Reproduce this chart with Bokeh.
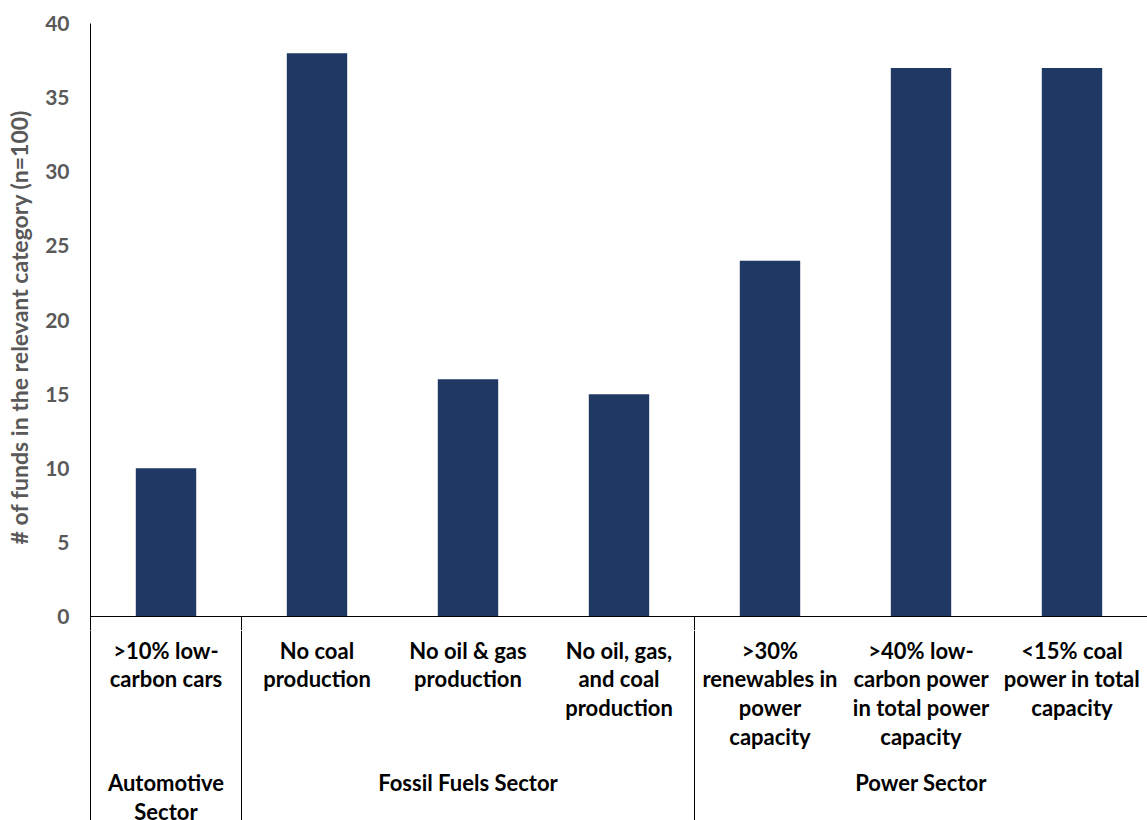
from bokeh.plotting import figure
from bokeh.layouts import column
from bokeh.models import Range1d, FixedTicker, Span, ColumnDataSource
from bokeh.core.properties import value
from bokeh.embed import file_html
from bokeh.resources import INLINE

# ---- data ----
categories = [
    ">10% low-\ncarbon cars",
    "No coal\nproduction",
    "No oil & gas\nproduction",
    "No oil, gas,\nand coal\nproduction",
    ">30%\nrenewables in\npower\ncapacity",
    ">40% low-\ncarbon power\nin total power\ncapacity",
    "<15% coal\npower in total\ncapacity",
]
values = [10, 38, 16, 15, 24, 37, 37]
groups = ["Automotive\nSector", "Fossil Fuels Sector", "Power Sector"]
group_sizes = [1, 3, 3]
y_ticks = [0, 5, 10, 15, 20, 25, 30, 35, 40]
y_title = "# of funds in the relevant category (n=100)"

FONT = "Lato"
BAR = "#203864"
GREY = "#595959"

n = len(categories)
xr = Range1d(0, n)

# layout constants (pixels)
TOP_H = 630          # top canvas height (frame 23..630)
ZERO_PX = 616        # pixel row of the zero line
PX_PER_UNIT = (ZERO_PX - 23) / 40.0
y_min_top = -(TOP_H - ZERO_PX) / PX_PER_UNIT

bounds = [0]
for s in group_sizes:
    bounds.append(bounds[-1] + s)
sep_x = bounds[1:-1]
centers = [i + 0.5 for i in range(n)]

# ---- top: bars ----
p = figure(width=1147, height=TOP_H, output_backend="svg", toolbar_location=None,
           x_range=xr, y_range=Range1d(y_min_top, 40),
           min_border_left=90, min_border_top=23, min_border_bottom=0, min_border_right=0)
p.outline_line_color = None
p.xgrid.visible = False
p.ygrid.visible = False
p.xaxis.visible = False

yax = p.yaxis[0]
yax.ticker = FixedTicker(ticks=y_ticks)
yax.major_tick_out = 0
yax.major_tick_in = 0
yax.minor_tick_out = 0
yax.minor_tick_in = 0
yax.axis_line_color = "black"
yax.major_label_text_font = FONT
yax.major_label_text_font_size = "21px"
yax.major_label_text_font_style = "bold"
yax.major_label_text_color = GREY
yax.major_label_standoff = 21
yax.axis_label = y_title
yax.axis_label_text_font = FONT
yax.axis_label_text_font_size = "23px"
yax.axis_label_text_font_style = "bold"
yax.axis_label_text_color = GREY
yax.axis_label_standoff = 9

p.vbar(x=centers, top=values, width=0.4, bottom=0, color=BAR, line_color=None)
p.add_layout(Span(location=0, dimension="width", line_color="black", line_width=1))
p.segment(x0=sep_x, y0=[0] * len(sep_x), x1=sep_x, y1=[y_min_top] * len(sep_x),
          line_color="black", line_width=1)

# ---- bottom: category labels and group separators (1 unit = 1 px below zero line) ----
BOT_H = 820 - TOP_H
q_top = -(TOP_H - ZERO_PX)
q = figure(width=1147, height=BOT_H, output_backend="svg", toolbar_location=None,
           x_range=xr, y_range=Range1d(q_top - BOT_H, q_top),
           min_border_left=90, min_border_top=0, min_border_bottom=0, min_border_right=0)
q.outline_line_color = None
q.xgrid.visible = False
q.ygrid.visible = False
q.xaxis.visible = False
qy = q.yaxis[0]
qy.ticker = FixedTicker(ticks=[])
qy.major_tick_out = 0
qy.minor_tick_out = 0
qy.major_label_text_font_size = "0px"
qy.axis_line_color = "black"

q.segment(x0=sep_x, y0=[q_top] * len(sep_x), x1=sep_x, y1=[q_top - BOT_H] * len(sep_x),
          line_color="black", line_width=1)

src = ColumnDataSource(dict(x=centers, y=[-20] * n, t=categories))
q.text(x="x", y="y", text="t", source=src, text_align="center", text_baseline="top",
       text_font=value(FONT), text_font_size="22px", text_font_style="bold",
       text_color="black", text_line_height=1.065)

gx = [(bounds[i] + bounds[i + 1]) / 2 for i in range(len(groups))]
gsrc = ColumnDataSource(dict(x=gx, y=[-152] * len(groups), t=groups))
q.text(x="x", y="y", text="t", source=gsrc, text_align="center", text_baseline="top",
       text_font=value(FONT), text_font_size="22px", text_font_style="bold",
       text_color="black", text_line_height=1.1)

layout = column(p, q, spacing=0)
open("out.html", "w").write(file_html(layout, INLINE))
